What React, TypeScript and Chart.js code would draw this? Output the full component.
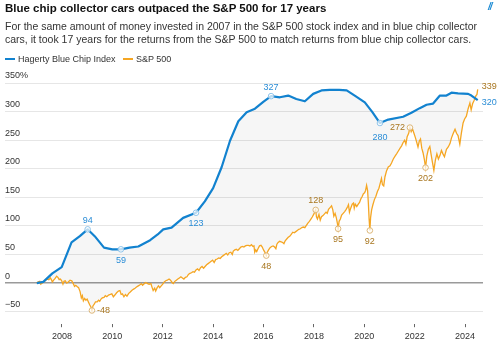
import React, { useEffect, useRef } from "react";
import { Chart, registerables } from "chart.js";

Chart.register(...registerables);

// ---------- data ----------
const blueYears = [
  2007.0, 2007.26, 2007.62, 2007.99, 2008.38, 2008.71, 2009.02, 2009.3, 2009.67, 2010.0,
  2010.34, 2010.68, 2011.03, 2011.5, 2011.8, 2012.02, 2012.35, 2012.81, 2013.32, 2013.67,
  2014.0, 2014.34, 2014.67, 2015.0, 2015.33, 2015.66, 2015.99, 2016.3, 2016.65, 2016.98,
  2017.3, 2017.64, 2017.97, 2018.3, 2018.63, 2019.0, 2019.3, 2019.65, 2020.02, 2020.32,
  2020.62, 2020.95, 2021.54, 2021.87, 2022.2, 2022.47, 2022.73, 2023.0, 2023.26, 2023.46,
  2023.72, 2024.12, 2024.25, 2024.5,
];
const blueValues = [
  0, 2, 17, 28, 71, 82, 94, 82, 62, 59,
  59, 62, 64, 75, 85, 94, 97, 114, 123, 143,
  166, 203, 249, 283, 299, 305, 317, 327, 325, 328,
  322, 318, 331, 337, 338, 338, 337, 327, 316, 299,
  280, 286, 291, 298, 306, 312, 314, 328, 328, 333,
  332, 331, 328, 320,
];

const spYears = [
  2007.0, 2007.06, 2007.12, 2007.16, 2007.22, 2007.28, 2007.35, 2007.42, 2007.48, 2007.54,
  2007.58, 2007.62, 2007.67, 2007.73, 2007.79, 2007.84, 2007.89, 2007.94, 2007.99, 2008.04,
  2008.08, 2008.13, 2008.19, 2008.25, 2008.32, 2008.39, 2008.45, 2008.5, 2008.55, 2008.6,
  2008.66, 2008.72, 2008.77, 2008.81, 2008.85, 2008.9, 2008.95, 2009.0, 2009.05, 2009.1,
  2009.15, 2009.19, 2009.23, 2009.28, 2009.33, 2009.4, 2009.45, 2009.5, 2009.55, 2009.6,
  2009.67, 2009.72, 2009.78, 2009.85, 2009.92, 2009.98, 2010.04, 2010.1, 2010.17, 2010.24,
  2010.3, 2010.35, 2010.4, 2010.46, 2010.52, 2010.58, 2010.65, 2010.7, 2010.77, 2010.83,
  2010.9, 2010.96, 2011.03, 2011.1, 2011.15, 2011.2, 2011.27, 2011.33, 2011.4, 2011.46,
  2011.53, 2011.58, 2011.62, 2011.68, 2011.72, 2011.78, 2011.83, 2011.88, 2011.94, 2012.0,
  2012.06, 2012.12, 2012.18, 2012.25, 2012.31, 2012.37, 2012.42, 2012.48, 2012.54, 2012.6,
  2012.66, 2012.72, 2012.78, 2012.84, 2012.9, 2012.96, 2013.02, 2013.08, 2013.14, 2013.2,
  2013.26, 2013.32, 2013.38, 2013.44, 2013.5, 2013.56, 2013.62, 2013.68, 2013.74, 2013.8,
  2013.86, 2013.92, 2013.98, 2014.04, 2014.1, 2014.16, 2014.22, 2014.28, 2014.34, 2014.4,
  2014.46, 2014.52, 2014.58, 2014.64, 2014.7, 2014.76, 2014.8, 2014.86, 2014.92, 2014.98,
  2015.04, 2015.1, 2015.16, 2015.22, 2015.28, 2015.34, 2015.4, 2015.46, 2015.52, 2015.58,
  2015.62, 2015.65, 2015.69, 2015.73, 2015.78, 2015.84, 2015.9, 2015.95, 2016.0, 2016.04,
  2016.08, 2016.11, 2016.15, 2016.2, 2016.26, 2016.32, 2016.38, 2016.44, 2016.49, 2016.53,
  2016.58, 2016.64, 2016.7, 2016.76, 2016.81, 2016.86, 2016.92, 2016.98, 2017.04, 2017.1,
  2017.16, 2017.22, 2017.28, 2017.34, 2017.4, 2017.46, 2017.52, 2017.58, 2017.64, 2017.7,
  2017.76, 2017.82, 2017.88, 2017.94, 2018.0, 2018.04, 2018.07, 2018.1, 2018.14, 2018.2,
  2018.25, 2018.3, 2018.36, 2018.42, 2018.48, 2018.53, 2018.58, 2018.64, 2018.7, 2018.75,
  2018.79, 2018.84, 2018.89, 2018.93, 2018.96, 2019.0, 2019.05, 2019.1, 2019.16, 2019.22,
  2019.28, 2019.34, 2019.37, 2019.41, 2019.46, 2019.52, 2019.57, 2019.6, 2019.64, 2019.7,
  2019.76, 2019.81, 2019.86, 2019.91, 2019.96, 2020.01, 2020.05, 2020.09, 2020.13, 2020.16,
  2020.19, 2020.22, 2020.25, 2020.29, 2020.34, 2020.4, 2020.46, 2020.52, 2020.58, 2020.64,
  2020.68, 2020.72, 2020.77, 2020.82, 2020.88, 2020.95, 2021.02, 2021.08, 2021.15, 2021.22,
  2021.28, 2021.35, 2021.42, 2021.48, 2021.54, 2021.6, 2021.65, 2021.7, 2021.76, 2021.81,
  2021.86, 2021.91, 2021.97, 2022.03, 2022.08, 2022.13, 2022.18, 2022.23, 2022.28, 2022.33,
  2022.38, 2022.43, 2022.48, 2022.54, 2022.6, 2022.65, 2022.7, 2022.76, 2022.82, 2022.88,
  2022.94, 2023.0, 2023.06, 2023.12, 2023.18, 2023.26, 2023.33, 2023.4, 2023.46, 2023.53,
  2023.6, 2023.66, 2023.72, 2023.79, 2023.85, 2023.92, 2023.98, 2024.05, 2024.12, 2024.19,
  2024.24, 2024.3, 2024.36, 2024.42, 2024.47, 2024.5,
];
const spValues = [
  0, 2, 3, -2, 0, 2, 5, 7, 6, 9,
  6, 2, 5, 8, 12, 10, 6, 7, 4, -2,
  3, 4, 0, 2, 5, 4, -1, -6, -4, -6,
  -8, -15, -26, -22, -31, -27, -30, -28, -33, -38,
  -42, -48, -40, -37, -33, -33, -30, -32, -28, -26,
  -25, -22, -24, -21, -20, -19, -24, -21, -17, -14,
  -13, -20, -19, -24, -20, -23, -18, -16, -13, -11,
  -9, -7, -5, -3, -1, -4, -1, 1, -1, -2,
  -1, -8, -13, -9, -14, -8, -5, -8, -5, -2,
  2, 4, 5, 7, 5, 1, -1, 3, 5, 7,
  9, 11, 9, 7, 10, 11, 15, 17, 18, 20,
  19, 23, 25, 22, 27, 29, 26, 29, 32, 34,
  36, 38, 40, 36, 41, 42, 44, 43, 46, 48,
  50, 52, 49, 53, 54, 50, 56, 58, 59, 57,
  60, 63, 64, 63, 65, 66, 66, 65, 67, 64,
  65, 54, 58, 55, 60, 65, 66, 63, 58, 55,
  52, 48, 54, 58, 62, 64, 65, 63, 60, 68,
  71, 73, 72, 71, 69, 74, 77, 80, 82, 85,
  89, 88, 90, 92, 94, 95, 97, 98, 97, 101,
  105, 108, 112, 116, 121, 125, 128, 116, 112, 120,
  110, 116, 118, 121, 124, 122, 129, 132, 135, 128,
  117, 122, 114, 105, 95, 108, 112, 119, 122, 125,
  129, 134, 137, 124, 131, 138, 140, 131, 138, 134,
  138, 141, 147, 151, 156, 158, 162, 171, 162, 140,
  112, 92, 115, 128, 137, 146, 152, 160, 166, 176,
  183, 172, 170, 186, 196, 203, 205, 210, 217, 222,
  226, 231, 236, 240, 246, 250, 243, 256, 262, 272,
  265, 270, 262, 254, 246, 238, 248, 252, 236, 228,
  217, 202, 222, 234, 239, 225, 212, 197, 215, 226,
  217, 223, 232, 226, 221, 234, 238, 244, 254, 262,
  269, 262, 258, 243, 262, 280, 287, 292, 305, 315,
  303, 314, 320, 327, 330, 339,
];

const yTicks = [-50, 0, 50, 100, 150, 200, 250, 300, 350];
const xTicks = [2008, 2010, 2012, 2014, 2016, 2018, 2020, 2022, 2024];

// annotated points (years within the series) and label placement
const blueMarkYears = [2009.02, 2010.34, 2013.32, 2016.3, 2020.62];
const blueMarkPos = ["above", "below", "below", "above", "below-far"];
const spMarkYears = [2009.19, 2016.11, 2018.07, 2018.96, 2020.22, 2021.81, 2022.43];
const spMarkPos = ["right", "below", "above", "below", "below", "left", "below"];

const BLUE = "#1282cf";
const BLUE_TEXT = "#2b8dd6";
const BLUE_RING = "#8fc4ea";
const ORANGE = "#f5a623";
const ORANGE_TEXT = "#a8761f";
const ORANGE_RING = "#dcb678";
const FONT = '"Liberation Sans", Arial, sans-serif';

const annotatePlugin = {
  id: "annotate",
  afterDatasetsDraw(chart: any) {
    const ctx = chart.ctx;
    const xs = chart.scales.x;
    const ys = chart.scales.y;
    ctx.save();
    ctx.font = `9px ${FONT}`;
    ctx.textBaseline = "middle";
    const drawMarks = (
      years: number[],
      values: number[],
      markYears: number[],
      pos: string[],
      ring: string,
      textColor: string
    ) => {
      markYears.forEach((yr, k) => {
        const i = years.indexOf(yr);
        if (i < 0) return;
        const v = values[i];
        const px = xs.getPixelForValue(years[i]);
        const py = ys.getPixelForValue(v);
        ctx.beginPath();
        ctx.arc(px, py, 2.8, 0, Math.PI * 2);
        ctx.fillStyle = "rgba(255,255,255,0.7)";
        ctx.fill();
        ctx.lineWidth = 1;
        ctx.strokeStyle = ring;
        ctx.stroke();
        const label = v < 0 ? `-${Math.abs(v)}` : `${v}`;
        ctx.fillStyle = textColor;
        const p = pos[k];
        if (p === "above") {
          ctx.textAlign = "center";
          ctx.fillText(label, px, py - 9);
        } else if (p === "below") {
          ctx.textAlign = "center";
          ctx.fillText(label, px, py + 11);
        } else if (p === "below-far") {
          ctx.textAlign = "center";
          ctx.fillText(label, px, py + 15);
        } else if (p === "right") {
          ctx.textAlign = "left";
          ctx.fillText(label, px + 5, py);
        } else {
          ctx.textAlign = "right";
          ctx.fillText(label, px - 5, py);
        }
      });
    };
    drawMarks(blueYears, blueValues, blueMarkYears, blueMarkPos, BLUE_RING, BLUE_TEXT);
    drawMarks(spYears, spValues, spMarkYears, spMarkPos, ORANGE_RING, ORANGE_TEXT);

    // end labels
    ctx.textAlign = "left";
    const bi = blueYears.length - 1;
    ctx.fillStyle = BLUE_TEXT;
    ctx.fillText(
      `${blueValues[bi]}`,
      xs.getPixelForValue(blueYears[bi]) + 4,
      ys.getPixelForValue(blueValues[bi]) + 2
    );
    const si = spYears.length - 1;
    ctx.fillStyle = ORANGE_TEXT;
    ctx.fillText(
      `${spValues[si]}`,
      xs.getPixelForValue(spYears[si]) + 4,
      ys.getPixelForValue(spValues[si]) - 3
    );
    ctx.restore();
  },
};

function ChartCanvas() {
  const ref = useRef<HTMLCanvasElement | null>(null);
  useEffect(() => {
    if (!ref.current) return;
    const chart = new Chart(ref.current, {
      type: "line",
      data: {
        datasets: [
          {
            label: "Hagerty Blue Chip Index",
            data: blueYears.map((x, i) => ({ x, y: blueValues[i] })),
            borderColor: BLUE,
            borderWidth: 2.2,
            pointRadius: 0,
            tension: 0,
            fill: "+1",
            backgroundColor: "rgba(0,0,0,0.035)",
            borderJoinStyle: "round",
          },
          {
            label: "S&P 500",
            data: spYears.map((x, i) => ({ x, y: spValues[i] })),
            borderColor: ORANGE,
            borderWidth: 1.3,
            pointRadius: 0,
            tension: 0,
            fill: false,
          },
        ],
      },
      options: {
        responsive: false,
        animation: false,
        devicePixelRatio: 1,
        layout: { padding: { left: 5, right: 14, top: 83, bottom: 6 } },
        plugins: {
          legend: { display: false },
          tooltip: { enabled: false },
          filler: { drawTime: "beforeDatasetsDraw" },
        } as any,
        scales: {
          x: {
            type: "linear",
            min: 2005.74,
            max: 2024.71,
            afterBuildTicks: (s: any) => {
              s.ticks = xTicks.map((v) => ({ value: v }));
            },
            grid: {
              display: true,
              drawOnChartArea: false,
              drawTicks: true,
              tickLength: 3,
              color: "#666",
            },
            border: { display: false },
            ticks: {
              color: "#333",
              font: { size: 9, family: FONT },
              padding: 4,
              maxRotation: 0,
              autoSkip: false,
              callback: (v: any) => String(v),
            },
          },
          y: {
            type: "linear",
            min: -72,
            max: 350,
            afterBuildTicks: (s: any) => {
              s.ticks = yTicks.map((v) => ({ value: v }));
            },
            grid: {
              drawTicks: false,
              color: (c: any) => (c.tick && c.tick.value === 0 ? "#9a9a9a" : "#e6e6e6"),
              lineWidth: (c: any) => (c.tick && c.tick.value === 0 ? 1.6 : 1),
            },
            border: { display: false },
            ticks: {
              mirror: true,
              padding: 0,
              labelOffset: -7,
              color: "#333",
              font: { size: 9, family: FONT },
              autoSkip: false,
              callback: (v: any) =>
                v === 350 ? "350%" : v < 0 ? `\u2212${Math.abs(v)}` : String(v),
            },
          },
        },
      } as any,
      plugins: [annotatePlugin],
    });
    return () => chart.destroy();
  }, []);
  return (
    <canvas
      ref={ref}
      width={497}
      height={352}
      style={{ position: "absolute", left: 0, top: 0, width: 497, height: 352 }}
    />
  );
}

export default function App() {
  const legendItem = (color: string, text: string, left: number) => (
    <div
      style={{
        position: "absolute",
        left,
        top: 53,
        height: 12,
        display: "flex",
        alignItems: "center",
        fontSize: 9,
        color: "#333",
        whiteSpace: "nowrap",
      }}
    >
      <span
        style={{
          display: "inline-block",
          width: 10,
          height: 2,
          background: color,
          marginRight: 3,
        }}
      />
      {text}
    </div>
  );
  return (
    <div
      style={{
        position: "absolute",
        left: 0,
        top: 0,
        width: 497,
        height: 352,
        background: "#fff",
        fontFamily: FONT,
        overflow: "hidden",
      }}
    >
      <ChartCanvas />
      <div
        style={{
          position: "absolute",
          left: 5,
          top: 1,
          fontSize: 11.5,
          lineHeight: "14px",
          fontWeight: 700,
          color: "#111",
          whiteSpace: "nowrap",
        }}
      >
        Blue chip collector cars outpaced the S&amp;P 500 for 17 years
      </div>
      <div
        style={{
          position: "absolute",
          left: 488,
          top: 0,
          fontSize: 10,
          lineHeight: "14px",
          fontWeight: 700,
          fontStyle: "italic",
          color: "#1a8ad4",
          letterSpacing: -1,
        }}
      >
        //
      </div>
      <div
        style={{
          position: "absolute",
          left: 5,
          top: 19.5,
          width: 490,
          fontSize: 10.5,
          lineHeight: "13px",
          color: "#333",
        }}
      >
        For the same amount of money invested in 2007 in the S&amp;P 500 stock index and in blue chip collector
        <br />
        cars, it took 17 years for the returns from the S&amp;P 500 to match returns from blue chip collector cars.
      </div>
      {legendItem(BLUE, "Hagerty Blue Chip Index", 5)}
      {legendItem(ORANGE, "S&P 500", 123)}
    </div>
  );
}
